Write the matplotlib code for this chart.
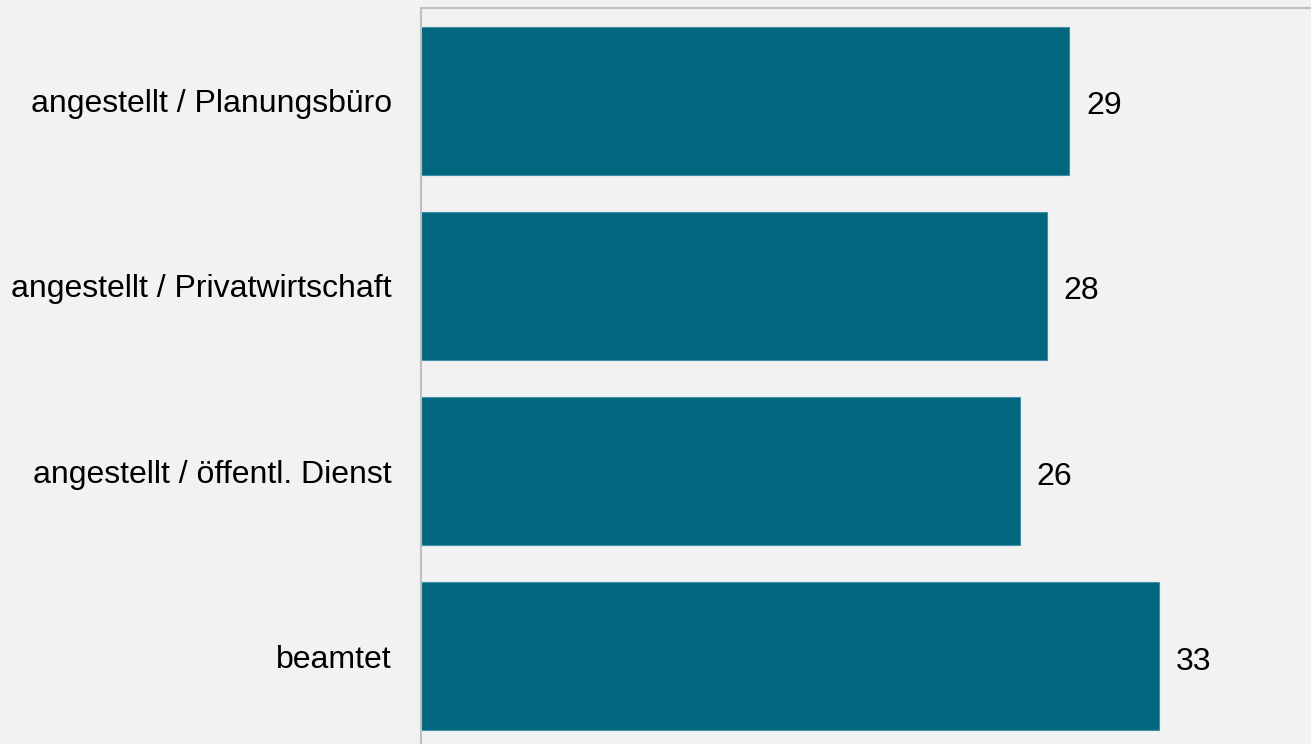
import matplotlib
matplotlib.use("Agg")
import matplotlib.pyplot as plt

categories = ["angestellt / Planungsbüro", "angestellt / Privatwirtschaft",
              "angestellt / öffentl. Dienst", "beamtet"]
values = [29, 28, 26.8, 33]
value_labels = ["29", "28", "26", "33"]

plt.rcParams['font.family'] = ['Liberation Sans', 'DejaVu Sans']

W, H = 1311, 744
fig = plt.figure(figsize=(W / 100, H / 100), dpi=100)
fig.patch.set_facecolor('#f2f2f2')
ax = fig.add_axes([421 / W, -5 / H, 1 - 421 / W, 741 / H])
ax.set_facecolor('#f2f2f2')

pos = list(range(len(categories)))
ax.barh(pos, values, height=0.8, color='#00677f', edgecolor='#3f8fa6', linewidth=0.8)
ax.set_ylim(3.5, -0.5)
ax.set_xlim(0, 890 / 22.355)

ax.set_yticks(pos)
ax.set_yticklabels(categories, fontsize=23, color='black')
ax.tick_params(axis='y', length=0, pad=21)
ax.set_xticks([])

for p, v, t in zip(pos, values, value_labels):
    ax.annotate(t, xy=(v, p), xytext=(12.0, -1.5), textcoords='offset points',
                ha='left', va='center_baseline', fontsize=23, color='black')

for s in ['right', 'bottom']:
    ax.spines[s].set_visible(False)
for s in ['left', 'top']:
    ax.spines[s].set_color('#bfbfbf')
    ax.spines[s].set_linewidth(1.5)

fig.savefig('out.png', dpi=100, facecolor=fig.get_facecolor())
